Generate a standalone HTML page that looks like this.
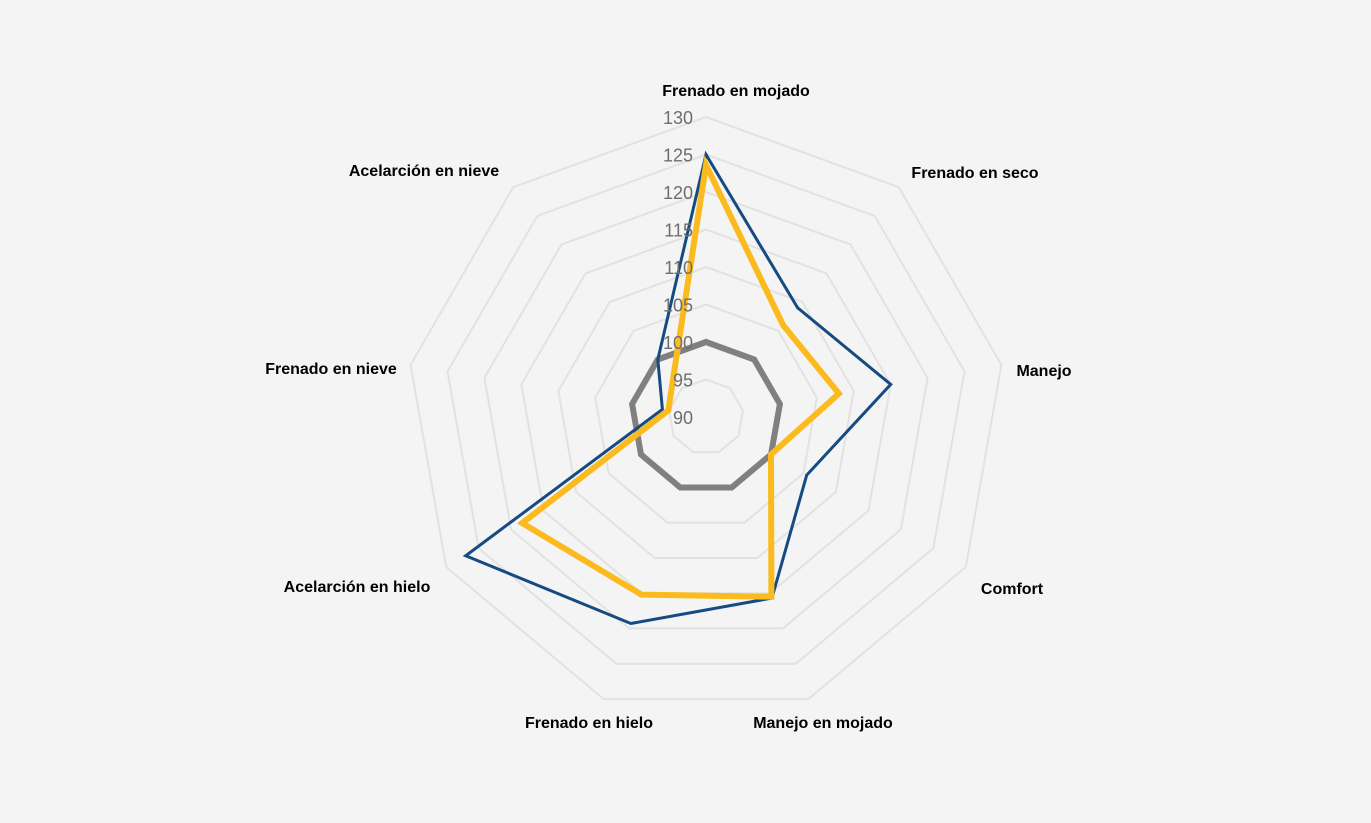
<!DOCTYPE html>
<html><head><meta charset="utf-8"><style>
html,body{margin:0;padding:0;background:#f4f4f4;}
svg{display:block;}
.cat{font-family:"Liberation Sans",sans-serif;font-weight:bold;font-size:16px;fill:#000;}
.tick{font-family:"Liberation Sans",sans-serif;font-size:18px;fill:#6e6e6e;}
</style></head><body>
<svg id="s" width="1371" height="823" xmlns="http://www.w3.org/2000/svg">
<rect width="1371" height="823" fill="#f4f4f4"/>
<g id="grid"></g>
<g id="series"></g>
<g id="ticks"></g>
<text class="cat" x="736" y="96" text-anchor="middle">Frenado en mojado</text>
<text class="cat" x="975" y="178" text-anchor="middle">Frenado en seco</text>
<text class="cat" x="1044" y="376" text-anchor="middle">Manejo</text>
<text class="cat" x="1012" y="594" text-anchor="middle">Comfort</text>
<text class="cat" x="823" y="728" text-anchor="middle">Manejo en mojado</text>
<text class="cat" x="589" y="728" text-anchor="middle">Frenado en hielo</text>
<text class="cat" x="357" y="592" text-anchor="middle">Acelarción en hielo</text>
<text class="cat" x="331" y="374" text-anchor="middle">Frenado en nieve</text>
<text class="cat" x="424" y="176" text-anchor="middle">Acelarción en nieve</text>
</svg>
<script>
var cx=706,cy=417,R=300,NS="http://www.w3.org/2000/svg";
function pt(i,v){var a=i*40*Math.PI/180,r=(v-90)/40*R;return [cx+r*Math.sin(a),cy-r*Math.cos(a)];}
function poly(vals,stroke,w,parent){var p=document.createElementNS(NS,"polygon");
p.setAttribute("points",vals.map(function(v,i){return pt(i,v).map(function(n){return n.toFixed(1)}).join(",")}).join(" "));
p.setAttribute("fill","none");p.setAttribute("stroke",stroke);p.setAttribute("stroke-width",w);p.setAttribute("stroke-linejoin","miter");
document.getElementById(parent).appendChild(p);}
for(var v=95;v<=130;v+=5){poly([v,v,v,v,v,v,v,v,v],"#e2e2e2",2,"grid");}
poly([100,100,100,100,100,100,100,100,100],"#808080",6,"series");
poly([125,109,115,105.5,115.7,119.3,127,95.9,100],"#154a82",3,"series");
poly([123.6,106,108,100,115.5,115.2,118.3,95.1,96.8],"#fbbb1e",6,"series");
var tg=document.getElementById("ticks");
for(var v=90;v<=130;v+=5){var t=document.createElementNS(NS,"text");t.setAttribute("class","tick");
t.setAttribute("x",693);t.setAttribute("y",(cy-(v-90)/40*R+7).toFixed(1));t.setAttribute("text-anchor","end");t.textContent=v;tg.appendChild(t);}
</script>
</body></html>
